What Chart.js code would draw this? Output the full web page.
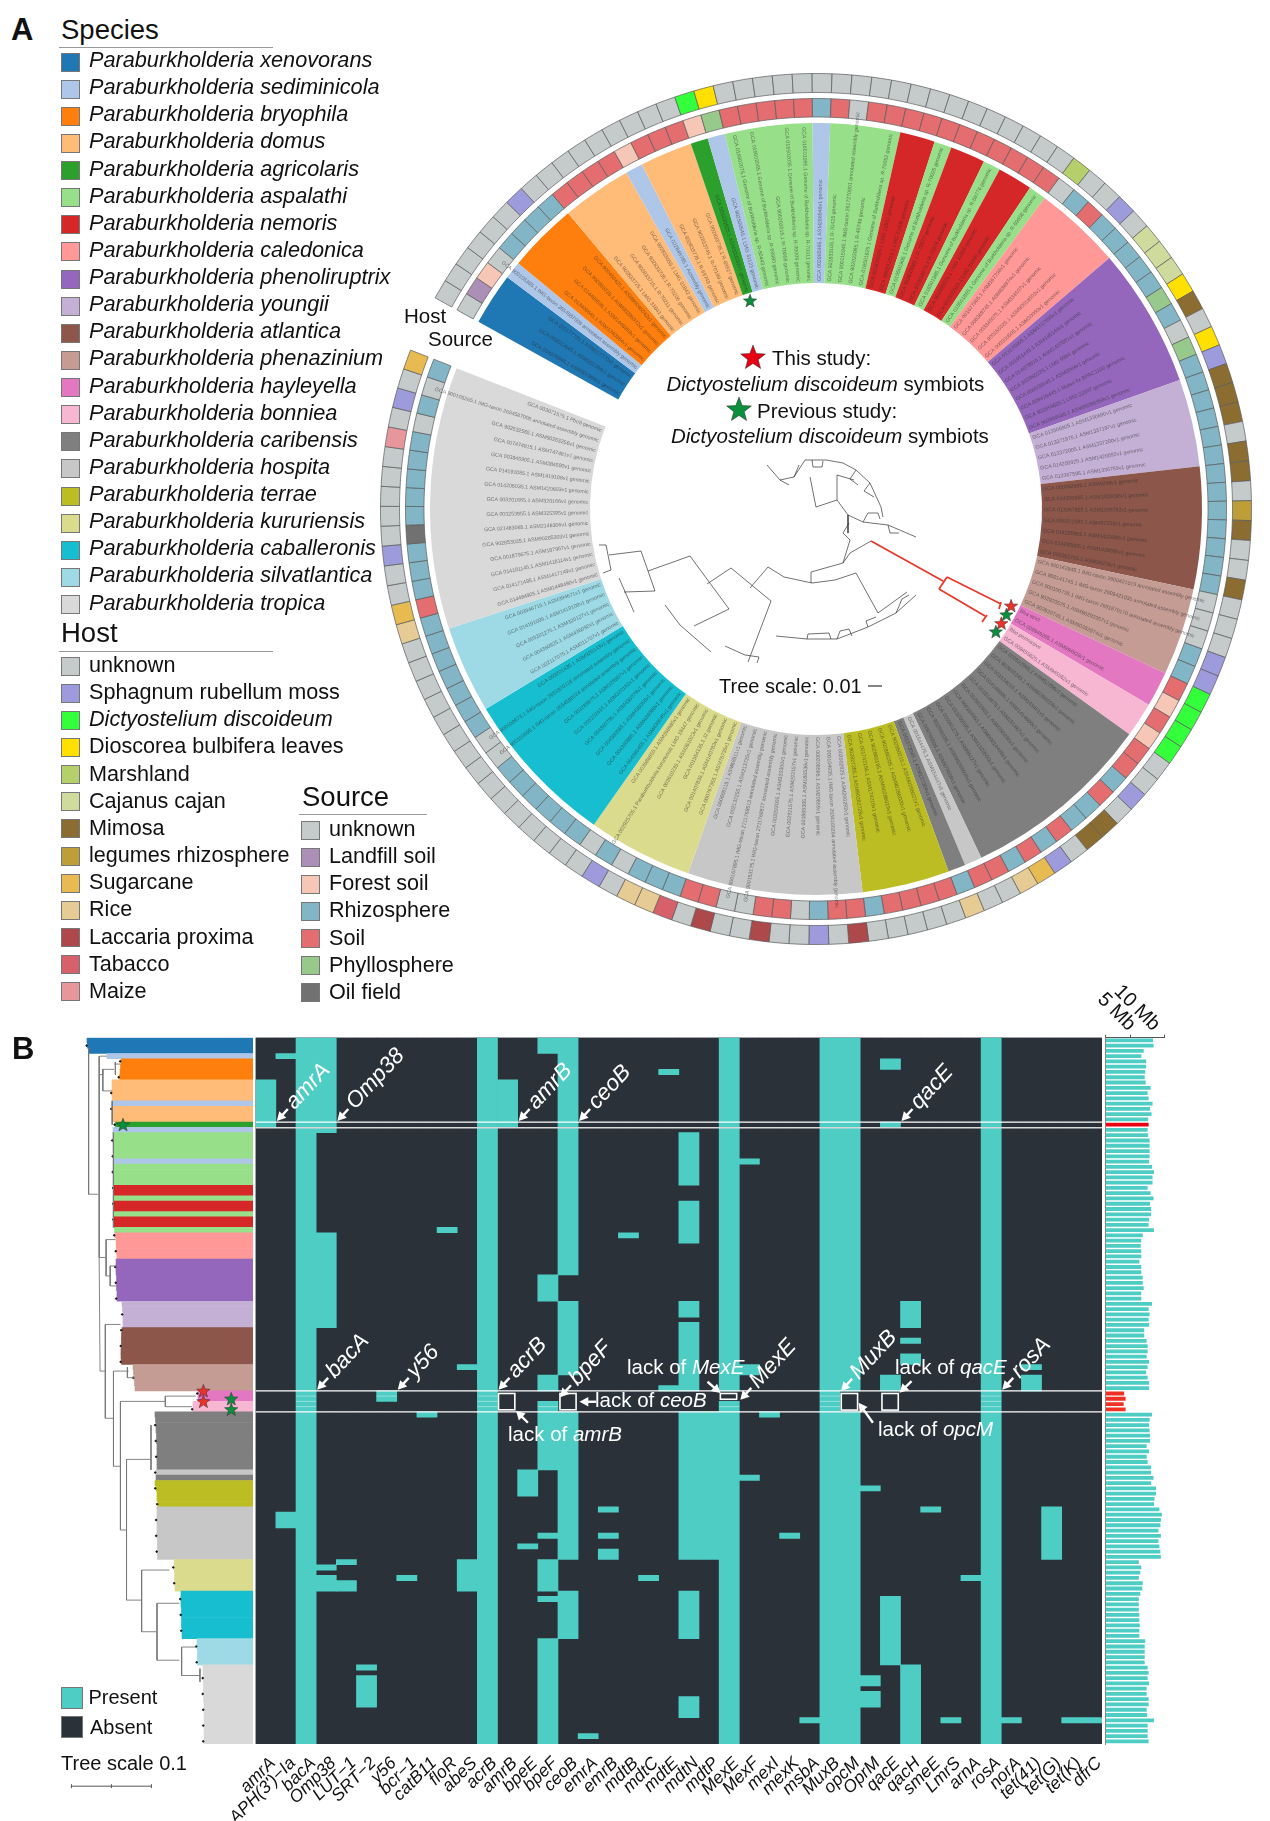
<!DOCTYPE html>
<html>
<head>
<meta charset="utf-8">
<title>Paraburkholderia genomes</title>
<script src="https://cdn.jsdelivr.net/npm/chart.js@4"></script>
<style>
html, body { margin: 0; background: #fff; }
#page { position: relative; width: 1270px; height: 1821px; overflow: hidden; font-family: "Liberation Sans", Arial, sans-serif; color: #111; }
canvas { position: absolute; }
.t { position: absolute; white-space: nowrap; line-height: 1; transform: translateY(-50%); }
.sw { position: absolute; box-sizing: border-box; border: 1px solid #777; }
.rule { position: absolute; height: 1px; background: #999; }
</style>
</head>
<body>
<div id="page">
  <canvas id="stripCanvas" width="1270" height="821" style="left:0;top:1000px"></canvas>
  <canvas id="treeCanvas" width="1270" height="821" style="left:0;top:1000px"></canvas>
  <canvas id="heatCanvas" width="1270" height="821" style="left:0;top:1000px"></canvas>
  <canvas id="genomeCanvas" width="180" height="800" style="left:1090px;top:960px"></canvas>
  <canvas id="ringCanvas" width="900" height="900" style="left:366px;top:59px"></canvas>
  <canvas id="innerCanvas" width="900" height="900" style="left:366px;top:59px"></canvas>
</div>
<script>
// ═══ Data ═══
const speciesNames = ["xenovorans","sediminicola","bryophila","domus","agricolaris","aspalathi","nemoris","caledonica","phenoliruptrix","youngii","atlantica","phenazinium","hayleyella","bonniea","caribensis","hospita","terrae","kururiensis","caballeronis","silvatlantica","tropica"];
const speciesColors = ["#1f77b4","#aec7e8","#ff7f0e","#ffbb78","#2ca02c","#98df8a","#d62728","#ff9896","#9467bd","#c5b0d5","#8c564b","#c49c94","#e377c2","#f7b6d2","#7f7f7f","#c7c7c7","#bcbd22","#dbdb8d","#17becf","#9edae5","#d9d9d9"];
// clades in tree order: which species, how many genomes
const cladeSpecies = [0,1,2,3,1,3,4,1,5,1,5,6,5,6,5,6,5,7,8,9,10,11,12,13,14,15,14,16,15,17,18,19,20];
const cladeCounts = [3,1,4,4,1,3,1,1,5,1,4,2,1,2,1,2,1,5,8,5,7,5,2,2,11,1,1,5,10,6,9,5,15];

const hostNames = ["unknown","Sphagnum rubellum moss","Dictyostelium discoideum","Dioscorea bulbifera leaves","Marshland","Cajanus cajan","Mimosa","legumes rhizosphere","Sugarcane","Rice","Laccaria proxima","Tabacco","Maize"];
const hostColors = ["#c5cbcb","#9d9bdc","#33ff3a","#ffe000","#b5cf6b","#cedb9c","#8c6d31","#bd9e39","#e7ba52","#e7cb94","#ad494a","#d6616b","#e7969c"];
const hostByTip = [0,0,0,0,0,0,1,0,0,0,0,0,0,0,0,0,2,3,0,0,0,0,0,0,0,0,0,0,0,0,0,0,0,0,0,0,0,4,0,0,1,0,5,5,5,3,6,0,3,1,6,6,6,0,6,6,0,7,6,0,0,6,0,0,0,1,1,2,2,2,2,0,0,1,0,6,6,0,1,8,9,0,0,9,0,0,0,0,0,10,0,1,0,0,10,0,0,10,0,11,9,9,0,1,0,0,0,0,0,0,0,0,0,0,0,0,0,0,0,9,8,0,0,1,0,0,0,0,0,12,0,1,0,8];

const sourceNames = ["unknown","Landfill soil","Forest soil","Rhizosphere","Soil","Phyllosphere","Oil field"];
const sourceColors = ["#c5cbcb","#ab8fb6","#f6c7b6","#82b6c6","#e36d6f","#97c98c","#717171"];
const sourceByTip = [0,1,2,0,3,3,3,3,4,4,4,4,2,4,4,4,2,5,4,4,4,4,4,3,4,0,4,4,4,4,4,4,4,4,4,4,4,0,3,4,3,3,3,3,3,5,3,0,5,3,3,3,3,3,3,3,3,3,3,3,3,3,0,0,0,3,3,4,2,4,2,4,4,3,4,3,3,4,3,4,3,4,4,3,4,4,4,4,3,4,4,3,0,4,4,0,0,4,4,3,3,3,0,3,0,3,3,3,3,3,3,0,0,3,3,3,3,3,3,3,4,3,3,3,6,3,3,3,3,3,0,3,0,3];

const tipLabels = ["GCA 003078945.1 ASM307894v1 genomic","GCA 002013645.1 ASM201364v1 genomic","GCA 001177705.1 ASM117770v1 genomic","GCA 900105365.1 IMG-taxon 2654587008 annotated assembly genomic","GCA 013409645.1 ASM1340964v1 genomic","GCA 014489595.1 ASM1448959v1 genomic","GCA 902859725.1 ASM90285972v1 genomic","GCA 900450425.1 ASM90045042v1 genomic","GCA 902833725.1 LMG 31841 genomic","GCA 902833715.1 R-70211 genomic","GCA 902833705.1 R-70206 genomic","GCA 902833055.1 LMG 31842 genomic","GCA 022846785.1 Assembly genomic","GCA 902833775.1 R-69749 genomic","GCA 902833745.1 R-70199 genomic","GCA 902833735.1 R-69927 genomic","GCA 003330825.1 ASM333082v1 genomic","GCA 902500545.1 LMG 31123 genomic","GCA 016502075.1 Genome of Burkholderia sp. R-50443 genomic","GCA 016502065.1 Genome of Burkholderia sp. R-69980 genomic","GCA 900203015.1 R-70008 genomic","GCA 016502035.1 Genome of Burkholderia sp. R-70009 genomic","GCA 016501995.1 Genome of Burkholderia sp. R-70011 genomic","GCA 002865465.1 ASM286546v1 genomic","GCA 902833105.1 R-70425 genomic","GCA 900115945.1 IMG-taxon 2617270901 annotated assembly genomic","GCA 902023065.1 R-45749 genomic","GCA 016501925.1 Genome of Burkholderia sp. R-70052 genomic","GCA 902833625.1 LMG 22931 genomic","GCA 900231015.1 LMG 31006 genomic","GCA 016501905.1 Genome of Burkholderia sp. R-70025 genomic","GCA 902833085.1 R-70377 genomic","GCA 902833075.1 R-70376 genomic","GCA 016501885.1 Genome of Burkholderia sp. R-69776 genomic","GCA 902500525.1 LMG 31836 genomic","GCA 902500515.1 LMG 31840 genomic","GCA 016501865.1 Genome of Burkholderia sp. R-69658 genomic","GCA 001677965.1 ASM167796v1 genomic","GCA 008369745.1 ASM836974v1 genomic","GCA 003345075.1 ASM334507v1 genomic","GCA 900185025.1 ASM90018502v1 genomic","GCA 000300505.1 ASM30050v1 genomic","GCA 013176955.1 ASM1317695v1 genomic","GCA 001951445.1 ASM195144v1 genomic","GCA 014078015.1 ASM1407801v1 genomic","GCA 902860225.1 LMG 9964 genomic","GCA 000020045.1 ASM2004v1 genomic","GCA 009416445.1 Mutan fix BPAC1100 genomic","GCA 902859605.1 LMG 22037 genomic","GCA 902859585.1 ASM90285958v1 genomic","GCA 013306905.1 ASM1330690v1 genomic","GCA 013371975.1 ASM1337197v1 genomic","GCA 013372005.1 ASM1337200v1 genomic","GCA 014200925.1 ASM1420092v1 genomic","GCA 013367595.1 ASM1336759v1 genomic","GCA 000092985.1 ASM9298v1 genomic","GCA 014200955.1 ASM1420095v1 genomic","GCA 013367825.1 ASM1336782v1 genomic","GCA 000372585.1 ASM37258v1 genomic","GCA 014200905.1 ASM1420090v1 genomic","GCA 014280605.1 ASM1428060v1 genomic","GCA 000362765.1 ASM36276v1 genomic","GCA 900142845.1 IMG-taxon 2600421019 annotated assembly genomic","GCA 900141745.1 IMG-taxon 2609421035 annotated assembly genomic","GCA 900100735.1 IMG-taxon 2651870170 annotated assembly genomic","GCA 902923575.1 ASM90292357v1 genomic","GCA 902829745.1 ASM90282974v1 genomic","Bha strict","GCA 009949285.1 ASM994928v1 genomic","Bbo permissive","GCA 009455625.1 ASM945562v1 genomic","GCA 000522565.2 ASM52256v2 genomic","GCA 902860245.1 ASM90286024v1 genomic","GCA 001634015.1 ASM163401v1 genomic","GCA 014146005.1 ASM1414600v1 genomic","GCA 001518675.1 ASM151867v1 genomic","GCA 002902965.1 ASM290296v1 genomic","GCA 900104955.1 ASM90010495v1 genomic","GCA 013205505.1 ASM1320550v1 genomic","GCA 000961275.1 ASM96127v1 genomic","GCA 902860105.1 ASM90286010v1 genomic","GCA 009786595.1 ASM978659v1 genomic","GCA 001544475.1 ASM154447v1 genomic","GCA 001573045.1 ASM157304v1 genomic","GCA 902860215.1 ASM90286021v1 genomic","GCA 902860205.1 ASM90286020v1 genomic","GCA 902860195.1 ASM90286019v1 genomic","GCA 001742165.1 ASM174216v1 genomic","GCA 902827285.1 ASM90282728v1 genomic","GCA 002002825.1 ASM200282v1 genomic","GCA 900104935.1 IMG-taxon 2634166264 annotated assembly genomic","GCA 000208596.1 ASM20859v1 genomic","GCA 001865365.1 ASM186536v1 genomic","GCA 002921575.1 ASM292157v1 genomic","GCA 003203005.1 ASM320300v1 genomic","GCA 900153175.1 IMG-taxon 2711768817 annotated assembly genomic","GCA 900167895.1 IMG-taxon 2711768513 annotated assembly genomic","GCA 002137255.1 ASM213725v1 genomic","GCA 000685115.1 ASM68511v1 genomic","GCA 000767355.1 ASM76735v1 genomic","GCA 001407835.1 ASM140783v1 genomic","GCA 001554135.1 J2 genomic","GCA 003610235.1 ASM361023v1 genomic","GCA 002925705.1 Paraburkholderia kururiensis LMG 19447 genomic","GCA 003686855.1 ASM368685v1 genomic","GCA 004360455.1 ASM436045v1 genomic","GCA 004360885.1 ASM436088v1 genomic","GCA 004360565.1 ASM436056v1 genomic","GCA 004360795.1 ASM436079v1 genomic","GCA 003201615.1 ASM320161v1 genomic","GCA 003289875.1 ASM328987v1 genomic","GCA 900103695.1 IMG-taxon 2654588024 annotated assembly genomic","GCA 900100673.1 IMG-taxon 2651870118 annotated assembly genomic","GCA 003201435.1 ASM320143v1 genomic","GCA 002117075.1 ASM211707v1 genomic","GCA 004360925.1 ASM436092v1 genomic","GCA 003201275.1 ASM320127v1 genomic","GCA 014191095.1 ASM1419109v1 genomic","GCA 003946715.1 ASM394671v1 genomic","GCA 014484905.1 ASM1448490v1 genomic","GCA 014171495.1 ASM1417149v1 genomic","GCA 014181145.1 ASM1418114v1 genomic","GCA 001879675.1 ASM187967v1 genomic","GCA 902853035.1 ASM90285303v1 genomic","GCA 021483065.1 ASM2148306v1 genomic","GCA 003253955.1 ASM325395v1 genomic","GCA 003201665.1 ASM320166v1 genomic","GCA 014206035.1 ASM1420603v1 genomic","GCA 014191085.1 ASM1419108v1 genomic","GCA 003845905.1 ASM384590v1 genomic","GCA 007474815.1 ASM747481v1 genomic","GCA 902532565.1 ASM90253256v1 genomic","GCA 900105265.1 IMG-taxon 2654587008 annotated assembly genomic","GCA 003071575.1 Pbo8 genomic"];

const geneNames = ["amrA","APH(3')−Ia","bacA","Omp38","LUT−1","SRT−2","y56","bcr−1","catB11","floR","abeS","acrB","amrB","bpeE","bpeF","ceoB","emrA","emrB","mdtB","mdtC","mdtE","mdtN","mdtP","MexE","MexF","mexI","mexK","msbA","MuxB","opcM","OprM","qacE","qacH","smeE","LmrS","arnA","rosA","norA","tet(41)","tet(G)","tet(K)","dfrC"];
// present runs per gene, [first row, row after last]
const geneRuns = [
  [[8,17]],
  [[3,4],[90,93]],
  [[0,134]],
  [[0,18],[37,55],[100,101],[102,105]],
  [[99,100],[103,105]],
  [[119,120],[121,127]],
  [[67,69]],
  [[102,103]],
  [[71,72]],
  [[36,37]],
  [[62,63],[99,105]],
  [[0,134]],
  [[8,17]],
  [[82,87],[96,97]],
  [[0,3],[45,50],[64,67],[69,82],[94,95],[99,105],[106,107],[114,134]],
  [[0,45],[50,64],[71,99],[105,114]],
  [[132,133]],
  [[89,90],[94,95],[97,99]],
  [[37,38]],
  [[102,103]],
  [[6,7],[66,67]],
  [[18,28],[31,39],[50,53],[54,67],[71,99],[105,114],[125,129]],
  [[71,99]],
  [[0,67],[69,134]],
  [[23,24],[62,64],[83,84]],
  [[71,72]],
  [[94,95]],
  [[129,130]],
  [[0,134]],
  [[0,67],[71,134]],
  [[85,86],[121,123],[124,127]],
  [[4,6],[16,17],[64,67],[106,119]],
  [[50,55],[57,58],[60,62],[119,134]],
  [[89,90]],
  [[129,130]],
  [[102,103]],
  [[0,134]],
  [[129,130]],
  [[62,63],[64,67]],
  [[89,99]],
  [[129,130]],
  [[129,130]]
];

const genomeMb = [9.7,9.8,7.8,7.3,8.3,8.3,8.1,8.0,8.2,9.2,8.6,8.8,9.6,9.1,9.4,8.7,8.8,8.6,8.7,9.0,9.0,9.0,9.0,8.9,9.5,9.9,9.6,9.6,8.6,9.2,9.8,9.1,9.3,9.3,8.9,8.8,9.9,7.6,7.3,7.2,7.3,7.3,6.9,7.3,7.3,7.6,7.6,7.8,7.3,7.3,9.5,8.8,9.0,8.8,8.9,7.9,7.9,8.4,8.6,8.6,8.4,8.9,8.6,8.3,8.6,8.9,8.9,3.8,4.1,3.7,4.1,9.5,9.0,8.9,9.0,9.1,9.1,8.4,8.9,8.4,8.6,9.3,9.3,9.8,9.3,10.3,10.3,10.0,9.9,11.0,11.5,11.3,11.2,10.8,11.3,10.8,11.0,11.2,11.3,6.8,7.3,7.1,6.8,7.6,7.5,7.1,6.8,6.8,6.8,6.9,6.9,7.0,6.9,6.9,8.1,8.0,8.0,8.0,8.0,8.6,8.8,8.6,8.9,8.4,8.4,8.8,8.8,8.4,8.5,9.9,8.6,8.6,8.6,8.8];
const genomeTickValues = [5, 10];
const genomeTickLabels = ["5 Mb", "10 Mb"];
const symbiontRows = [16, 67, 68, 69, 70];

// tree distance from the root to each tip (0.1 = the tree scale bar)
const tipDepth = [.0325,.0331,.0344,.0575,.075,.0744,.0738,.0731,.0638,.0638,.0638,.0638,.0638,.0638,.0638,.0638,.0681,.065,.065,.065,.0656,.0656,.0656,.0656,.0656,.0656,.0656,.0656,.0663,.0663,.0663,.0663,.0663,.0663,.0663,.0663,.0669,.0675,.0688,.069,.0694,.07,.0688,.0688,.0688,.0694,.0694,.0694,.07,.07,.0763,.0769,.0775,.0775,.0775,.0763,.0756,.0756,.0756,.075,.075,.0756,.09,.0906,.0913,.0919,.0925,.1713,.1713,.165,.165,.1175,.1181,.1188,.1188,.1194,.1194,.12,.12,.12,.12,.12,.1188,.1188,.1175,.1188,.12,.12,.1213,.12,.12,.12,.12,.12,.12,.1206,.1206,.1206,.1206,.1413,.1413,.1419,.1419,.1425,.1425,.15,.15,.15,.1506,.1506,.1506,.1506,.1513,.1513,.17,.17,.1706,.1706,.1706,.1775,.1775,.1781,.1781,.1781,.1781,.1781,.1788,.1788,.1788,.1788,.1788,.1788,.1788,.1788];

// rectangular tree of panel B, [depth, row] runs
const treeBranches = [
  [[.0345,1.9],[.0345,29.7],[.0462,29.7]],
  [[.0487,3.5],[.0574,3.5]],
  [[.0477,3.5],[.0477,41.7],[.0488,63.25],[.0554,63.25]],
  [[.0477,7],[.0523,7],[.0523,6],[.0666,6]],
  [[.0523,6],[.0523,10.1],[.0640,10.1]],
  [[.0666,5],[.074,5]],[[.068,4.6],[.068,7]],
  [[.064,12],[.064,16.5]],[[.0655,18],[.0655,36]],
  [[.0477,41.7],[.0554,41.7]],
  [[.0564,38.3],[.0564,45.2],[.0625,45.2]],
  [[.0564,38.3],[.068,38.3]],
  [[.0615,43.3],[.0615,47.1],[.0692,47.1]],
  [[.0615,43.3],[.0692,43.3]],
  [[.0554,54.4],[.0554,72.2],[.0656,72.2]],
  [[.0554,54.4],[.0743,54.4]],
  [[.0656,63.25],[.0656,81.3],[.0743,81.3]],
  [[.0656,63.25],[.0845,63.25]],
  [[.083,62.5],[.083,64.5],[.0925,64.5]],
  [[.0743,69],[.0743,93.4],[.0819,93.4]],
  [[.0743,69],[.1304,69]],
  [[.1304,68],[.1304,70]],
  [[.1304,68],[.1686,68]],
  [[.1304,70],[.1635,70]],
  [[.0819,80],[.0819,106.7],[.1,106.7]],
  [[.0819,80],[.1115,80]],
  [[.1125,73.5],[.1125,82]],
  [[.1008,101],[.1008,112.7],[.119,112.7]],
  [[.1008,101],[.1355,101]],
  [[.12,107.3],[.12,118.1],[.148,118.1]],
  [[.12,107.3],[.148,107.3]],
  [[.1508,115.6],[.1508,121],[.1737,121]],
  [[.1508,115.6],[.1686,115.6]],
  [[.1737,119.7],[.1737,122.2]]
];
const treeScaleBar = [[.013,142],[.063,142],[.113,142]];

// unrooted view of the same tree in the middle of panel A, offsets from the ring centre
const centreBranches = [
  [[-217,36],[-210,36],[-205,61],[-213,64]],
  [[-207,46],[-175,42],[-161,82],[-192,83]],
  [[-197,69],[-182,103]],
  [[-168,62],[-126,47],[-87,100],[-122,117]],
  [[-151,96],[-136,116],[-105,143]],
  [[-109,75],[-85,59],[-45,92],[-68,153]],
  [[-91,137],[-71,146],[-57,148],[-59,154]],
  [[-66,79],[-48,58],[-32,68],[-4,74],[19,71],[40,64]],
  [[-5,74],[-5,63],[27,54],[34,31],[27,24],[33,14]],
  [[27,54],[34,44],[55,32]],
  [[40,64],[62,104],[91,83]],
  [[-40,127],[-9,130],[21,130],[52,118],[80,104],[100,86]],
  [[-9,130],[-8,125],[13,124],[15,130]],
  [[21,130],[24,122],[33,120],[36,127]],
  [[52,118],[50,112],[60,108]],
  [[80,104],[86,90],[93,86]],
  [[-49,-44],[-36,-29],[-27,-24]],
  [[-36,-29],[-22,-32],[-17,-44]],
  [[-22,-32],[-11,-49],[10,-49],[27,-46],[40,-39],[54,-26],[65,-2],[67,8]],
  [[-4,-49],[-3,-42],[6,-42],[7,-48]],
  [[40,-39],[34,-30],[42,-24]],
  [[54,-26],[48,-18],[58,-12]],
  [[-6,-32],[0,-2],[21,-9],[32,6],[32,24]],
  [[21,-9],[21,-34],[38,-29]],
  [[32,6],[47,13],[72,16],[100,28]],
  [[47,13],[52,4],[62,4],[64,10]],
  [[72,16],[74,24],[83,24]]
];
const centreHighlight = [
  [[55,32],[127,72]],
  [[131,68],[123,80]],
  [[131,68],[185,95]],[[185,93],[183,100]],
  [[123,80],[169,107]],[[171,106],[166,113]]
];
const centreScaleBar = [[52,177],[66,177]];

// ═══ Shared helpers ═══
const FONT = '"Liberation Sans", Arial, sans-serif';
const TEAL = "#4ecdc4", DARK = "#2a3138";
const page = document.getElementById("page");
const rows = tipDepth.map((_, i) => String(i));

let rowSpecies = [];
cladeSpecies.forEach((s, i) => { for (let k = 0; k < cladeCounts[i]; k++) rowSpecies.push(s); });

Chart.defaults.font.family = FONT;
Chart.defaults.animation = false;
Chart.defaults.responsive = false;
Chart.defaults.devicePixelRatio = 1;
Chart.defaults.plugins.legend.display = false;
Chart.defaults.plugins.tooltip.enabled = false;

function addText(x, y, size, html, italic) {
  const d = document.createElement("div");
  d.className = "t";
  d.style.cssText = `left:${x}px;top:${y}px;font-size:${size}px;` + (italic ? "font-style:italic;" : "");
  d.innerHTML = html;
  page.appendChild(d);
  return d;
}
function addSwatch(x, y, w, h, color) {
  const d = document.createElement("div");
  d.className = "sw";
  d.style.cssText = `left:${x}px;top:${y - h / 2}px;width:${w}px;height:${h}px;background:${color}`;
  page.appendChild(d);
}
function addRule(x, y, w) {
  const d = document.createElement("div");
  d.className = "rule";
  d.style.cssText = `left:${x}px;top:${y}px;width:${w}px`;
  page.appendChild(d);
}
function starPath(ctx, x, y, r) {
  ctx.beginPath();
  for (let i = 0; i < 10; i++) {
    const a = -Math.PI / 2 + i * Math.PI / 5;
    const rr = i % 2 ? r * 0.42 : r;
    ctx.lineTo(x + rr * Math.cos(a), y + rr * Math.sin(a));
  }
  ctx.closePath();
}
function drawStar(ctx, x, y, r, color) {
  ctx.save();
  starPath(ctx, x, y, r);
  ctx.fillStyle = color;
  ctx.fill();
  ctx.strokeStyle = "rgba(40,40,40,.7)";
  ctx.lineWidth = 0.7;
  ctx.stroke();
  ctx.restore();
}
function branchesToPoints(list) {
  const pts = [];
  list.forEach((run) => {
    run.forEach((p) => pts.push({ x: p[0], y: p[1] }));
    pts.push({ x: NaN, y: NaN });
  });
  return pts;
}

// ═══ Panel text and legends ═══
addText(11, 29, 31, "<b>A</b>");
addText(12, 1048, 31, "<b>B</b>");

addText(61, 30, 27.5, "Species");
addRule(59, 47, 214);
speciesNames.forEach((n, i) => {
  const y = 62 + i * 27.13;
  addSwatch(61, y, 19, 19, speciesColors[i]);
  addText(89, y - 2, 21.7, "Paraburkholderia " + n, true);
});
addText(61, 633, 27.5, "Host");
addRule(59, 651, 214);
hostNames.forEach((n, i) => {
  const y = 666 + i * 27.15;
  addSwatch(61, y, 19, 19, hostColors[i]);
  addText(89, y - 1, 21.6, n, i === 2);
});
addText(302, 797, 27.5, "Source");
addRule(299, 814, 128);
sourceNames.forEach((n, i) => {
  const y = 830 + i * 27.15;
  addSwatch(301, y, 19, 19, sourceColors[i]);
  addText(329, y - 1, 21.6, n);
});
addText(404, 316, 20.5, "Host");
addText(428, 339, 20.5, "Source");
addText(772, 358, 20.5, "This study:");
addText(666.5, 384, 20.5, "<i>Dictyostelium discoideum</i> symbiots");
addText(757, 411, 20.5, "Previous study:");
addText(671, 436, 20.5, "<i>Dictyostelium discoideum</i> symbiots");
addText(719, 686, 20, "Tree scale: 0.01");

addSwatch(61, 1697.5, 22, 22, TEAL);
addSwatch(61, 1726.5, 22, 22, DARK);
addText(88.5, 1697, 20, "Present");
addText(90, 1727, 20, "Absent");
addText(61, 1763, 20, "Tree scale 0.1");

// ═══ Panel A: rings ═══
const tipLabelPlugin = {
  id: "tipLabels",
  afterDatasetsDraw(chart) {
    const ctx = chart.ctx;
    const arcs = chart.getDatasetMeta(2).data;
    const species = chart.getDatasetMeta(4).data[0];
    const r0 = species.innerRadius + 2;
    ctx.save();
    ctx.font = `5.3px ${FONT}`;
    ctx.fillStyle = "rgba(45,45,45,.6)";
    ctx.textBaseline = "middle";
    arcs.forEach((arc, i) => {
      const a = (arc.startAngle + arc.endAngle) / 2;
      const right = Math.cos(a) >= 0;
      ctx.save();
      ctx.translate(arc.x, arc.y);
      ctx.rotate(right ? a : a + Math.PI);
      ctx.textAlign = right ? "left" : "right";
      ctx.fillText(tipLabels[i], right ? r0 : -r0, 0);
      ctx.restore();
    });
    // symbiont markers sit just inside the labels
    [[16, "#0a8f3c"], [67, "#e8322a"], [68, "#0a8f3c"], [69, "#e8322a"], [70, "#0a8f3c"]].forEach(([tip, color]) => {
      const arc = arcs[tip];
      const a = (arc.startAngle + arc.endAngle) / 2;
      drawStar(ctx, arc.x + 218 * Math.cos(a), arc.y + 218 * Math.sin(a), 7, color);
    });
    const cx = species.x, cy = species.y;
    drawStar(ctx, cx - 63, cy - 151, 13, "#e60012");
    drawStar(ctx, cx - 77, cy - 99, 13, "#0a8f3c");
    ctx.restore();
  }
};

new Chart(document.getElementById("ringCanvas"), {
  type: "doughnut",
  data: {
    labels: rows,
    datasets: [
      { label: "Host", data: hostByTip.map(() => 1), backgroundColor: hostByTip.map((h) => hostColors[h]), borderColor: "#5a5a5a", borderWidth: 0.7, weight: 19 },
      { label: "", data: [1], backgroundColor: "rgba(0,0,0,0)", borderWidth: 0, weight: 6 },
      { label: "Source", data: sourceByTip.map(() => 1), backgroundColor: sourceByTip.map((s) => sourceColors[s]), borderColor: "#5a5a5a", borderWidth: 0.7, weight: 18.5 },
      { label: "", data: [1], backgroundColor: "rgba(0,0,0,0)", borderWidth: 0, weight: 6 },
      { label: "Species", data: cladeCounts, backgroundColor: cladeSpecies.map((s) => speciesColors[s]), borderWidth: 0, weight: 160 }
    ]
  },
  options: {
    rotation: -61,
    circumference: 352.4,
    radius: 435.5,
    cutout: "51.9%"
  },
  plugins: [tipLabelPlugin]
});

new Chart(document.getElementById("innerCanvas"), {
  type: "scatter",
  data: {
    datasets: [
      { data: branchesToPoints(centreBranches), showLine: true, borderColor: "#333", borderWidth: 0.7, pointRadius: 0, spanGaps: false },
      { data: branchesToPoints(centreHighlight), showLine: true, borderColor: "#e8392a", borderWidth: 1.8, pointRadius: 0, spanGaps: false },
      { data: branchesToPoints([centreScaleBar]), showLine: true, borderColor: "#333", borderWidth: 1.2, pointRadius: 0 }
    ]
  },
  options: {
    layout: { padding: 0 },
    scales: {
      x: { display: false, min: -450, max: 450 },
      y: { display: false, min: -450, max: 450, reverse: true }
    }
  }
});

// ═══ Panel B: species strips and tree ═══
new Chart(document.getElementById("stripCanvas"), {
  type: "bar",
  data: {
    labels: rows,
    datasets: [{
      data: tipDepth.map((d) => [d, 0.24]),
      backgroundColor: rowSpecies.map((s) => speciesColors[s]),
      barPercentage: 1,
      categoryPercentage: 1
    }]
  },
  options: {
    indexAxis: "y",
    layout: { padding: { left: 61, right: 1017, top: 37.7, bottom: 77 } },
    scales: {
      x: { display: false, min: 0, max: 0.24 },
      y: { display: false }
    }
  }
});

const treeStarPlugin = {
  id: "treeStars",
  afterDatasetsDraw(chart) {
    const { x, y } = chart.scales;
    const ctx = chart.ctx;
    [[.0775, 16.6, "#0a8f3c"], [.178, 67.1, "#e8322a"], [.178, 69.1, "#e8322a"], [.2128, 68.6, "#0a8f3c"], [.2128, 70.6, "#0a8f3c"]].forEach(([d, r, c]) => {
      drawStar(ctx, x.getPixelForValue(d), y.getPixelForValue(r), 7, c);
    });
  }
};

new Chart(document.getElementById("treeCanvas"), {
  type: "scatter",
  data: {
    datasets: [
      { data: branchesToPoints(treeBranches), showLine: true, borderColor: "#777", borderWidth: 0.9, pointRadius: 0, spanGaps: false },
      { data: tipDepth.map((d, i) => ({ x: d - 0.001, y: i + 0.5 })).filter((_, i) => i % 3 === 1), borderColor: "#111", backgroundColor: "#111", pointRadius: 0.8 },
      { data: branchesToPoints([treeScaleBar]), showLine: true, borderColor: "#555", borderWidth: 1, pointRadius: 2, pointStyle: "line", rotation: 90, pointBorderColor: "#555", pointBorderWidth: 1 }
    ]
  },
  options: {
    layout: { padding: { left: 61, right: 1014, top: 37.7, bottom: 19 } },
    scales: {
      x: { display: false, min: 0, max: 0.24375 },
      y: { display: false, min: 0, max: 145, reverse: true }
    }
  },
  plugins: [treeStarPlugin]
});

// ═══ Panel B: presence / absence heatmap ═══
const rowRules = [[16, "#fff"], [17.08, "#d8d8d8"], [67, "#fff"], [71, "#fff"]];
const lackBoxes = [[12.05, 12.86, 67.5, 70.6], [15.1, 15.9, 67.5, 70.6], [23.06, 23.87, 67.5, 68.6], [29.06, 29.87, 67.5, 70.65], [31.08, 31.89, 67.5, 70.65]];
const geneNotes = [
  ["amrA", 1, 16], ["Omp38", 4, 16], ["amrB", 13, 16], ["ceoB", 16, 16], ["qacE", 32, 16],
  ["bacA", 3, 67], ["y56", 7, 67], ["acrB", 12, 67], ["bpeF", 15.05, 68.4], ["MexE", 24, 68.9], ["MuxB", 29, 67.2], ["rosA", 37, 67]
];
// "lack of" notes: text anchor (column, row), arrow tail, arrow head
const lackNotes = [
  ["MexE", 18.43, 62.7, 22.42, 65.27, 23.07, 67.42],
  ["qacE", 31.73, 62.7, 32.55, 65.14, 31.95, 67.36],
  ["ceoB", 16.84, 69.07, 16.89, 69.07, 16.07, 69.07],
  ["amrB", 12.52, 75.39, 13.51, 73.05, 12.92, 70.78],
  ["opcM", 30.88, 74.44, 30.63, 73.05, 29.92, 69.26]
];

function whiteArrow(ctx, x1, y1, x2, y2) {
  const a = Math.atan2(y2 - y1, x2 - x1);
  ctx.strokeStyle = "#fff";
  ctx.fillStyle = "#fff";
  ctx.lineWidth = 2.4;
  ctx.beginPath();
  ctx.moveTo(x1, y1);
  ctx.lineTo(x2 - 6 * Math.cos(a), y2 - 6 * Math.sin(a));
  ctx.stroke();
  ctx.beginPath();
  ctx.moveTo(x2, y2);
  ctx.lineTo(x2 - 10 * Math.cos(a - 0.5), y2 - 10 * Math.sin(a - 0.5));
  ctx.lineTo(x2 - 10 * Math.cos(a + 0.5), y2 - 10 * Math.sin(a + 0.5));
  ctx.closePath();
  ctx.fill();
}

const heatBackPlugin = {
  id: "heatBack",
  beforeDatasetsDraw(chart) {
    const { left, top, width, height } = chart.chartArea;
    chart.ctx.fillStyle = DARK;
    chart.ctx.fillRect(left, top, width, height);
  }
};

const heatNotesPlugin = {
  id: "heatNotes",
  afterDatasetsDraw(chart) {
    const ctx = chart.ctx;
    const { x, y } = chart.scales;
    const colW = (x.right - x.left) / geneNames.length;
    const cx = (c) => x.left + c * colW;
    ctx.save();
    // faint row seams in the highlighted clade
    ctx.strokeStyle = "rgba(255,255,255,.4)";
    ctx.lineWidth = 1;
    geneRuns.forEach((runs, c) => runs.forEach(([a, b]) => {
      [68, 69, 70].forEach((r) => {
        if (a < r && b > r) {
          ctx.beginPath();
          ctx.moveTo(cx(c), y.getPixelForValue(r));
          ctx.lineTo(cx(c + 1), y.getPixelForValue(r));
          ctx.stroke();
        }
      });
    }));
    rowRules.forEach(([r, color]) => {
      ctx.strokeStyle = color;
      ctx.lineWidth = 1.3;
      ctx.beginPath();
      ctx.moveTo(x.left, y.getPixelForValue(r));
      ctx.lineTo(x.right, y.getPixelForValue(r));
      ctx.stroke();
    });
    ctx.strokeStyle = "#fff";
    ctx.lineWidth = 1.6;
    lackBoxes.forEach(([c0, c1, r0, r1]) => {
      ctx.strokeRect(cx(c0), y.getPixelForValue(r0), (c1 - c0) * colW, y.getPixelForValue(r1) - y.getPixelForValue(r0));
    });
    ctx.fillStyle = "#fff";
    ctx.textBaseline = "middle";
    ctx.textAlign = "left";
    geneNotes.forEach(([name, c, r]) => {
      const hx = cx(c), hy = y.getPixelForValue(r);
      whiteArrow(ctx, hx + 12, hy - 13, hx + 1, hy - 1);
      ctx.save();
      ctx.translate(hx + 14, hy - 16);
      ctx.rotate(-47 * Math.PI / 180);
      ctx.font = `italic 22.5px ${FONT}`;
      ctx.fillStyle = "#fff";
      ctx.fillText(name, 0, 0);
      ctx.restore();
    });
    lackNotes.forEach(([name, c, r, tc, tr, hc, hr]) => {
      ctx.fillStyle = "#fff";
      ctx.font = `20.5px ${FONT}`;
      const tx = cx(c), ty = y.getPixelForValue(r);
      ctx.fillText("lack of ", tx, ty);
      const w = ctx.measureText("lack of ").width;
      ctx.font = `italic 20.5px ${FONT}`;
      ctx.fillText(name, tx + w, ty);
      whiteArrow(ctx, cx(tc), y.getPixelForValue(tr), cx(hc), y.getPixelForValue(hr));
    });
    ctx.restore();
  }
};

const presentBars = [];
geneRuns.forEach((runs, c) => runs.forEach((run) => presentBars.push({ x: geneNames[c], y: run })));

new Chart(document.getElementById("heatCanvas"), {
  type: "bar",
  data: {
    labels: geneNames,
    datasets: [
      { label: "Present", data: presentBars, backgroundColor: TEAL, barPercentage: 1, categoryPercentage: 1, grouped: false },
      { label: "Absent", data: geneNames.map((g) => ({ x: g, y: [0, rows.length] })), backgroundColor: DARK, barPercentage: 1, categoryPercentage: 1, grouped: false }
    ]
  },
  options: {
    layout: { padding: { left: 255.7, right: 168, top: 37.7, bottom: 0 } },
    scales: {
      x: {
        grid: { display: false },
        border: { display: false },
        afterFit: (s) => { s.height = 77; },
        ticks: { autoSkip: false, minRotation: 45, maxRotation: 45, padding: 1, labelOffset: 7, color: "#111", font: { size: 17.5, style: "italic" } }
      },
      y: { display: false, min: 0, max: rows.length, reverse: true }
    }
  },
  plugins: [heatBackPlugin, heatNotesPlugin]
});

// ═══ Panel B: genome size bars ═══
const genomeAxisPlugin = {
  id: "genomeAxis",
  afterDraw(chart) {
    const { x } = chart.scales;
    const ctx = chart.ctx;
    ctx.save();
    ctx.fillStyle = "#111";
    ctx.font = `20px ${FONT}`;
    ctx.textAlign = "right";
    ctx.textBaseline = "middle";
    genomeTickValues.forEach((v, i) => {
      ctx.save();
      ctx.translate(x.getPixelForValue(v) + 2, x.top - 7);
      ctx.rotate(Math.PI / 4);
      ctx.fillText(genomeTickLabels[i], 0, 0);
      ctx.restore();
    });
    ctx.restore();
  }
};

new Chart(document.getElementById("genomeCanvas"), {
  type: "bar",
  data: {
    labels: rows,
    datasets: [{
      data: genomeMb,
      backgroundColor: genomeMb.map((_, i) => symbiontRows.includes(i) ? (i === 16 ? "#e60012" : "#ee3124") : TEAL),
      barPercentage: 0.72,
      categoryPercentage: 1
    }]
  },
  options: {
    indexAxis: "y",
    layout: { padding: { left: 15.5, right: 105.3, top: 74.7, bottom: 16 } },
    scales: {
      x: {
        position: "top",
        min: 0,
        max: 12.08,
        ticks: { display: false, stepSize: 5 },
        grid: { drawOnChartArea: false, tickLength: 3, color: "#555" },
        border: { color: "#555" }
      },
      y: {
        afterFit: (s) => { s.width = 0; },
        ticks: { display: false },
        grid: { display: false },
        border: { color: "#888", width: 1 }
      }
    }
  },
  plugins: [genomeAxisPlugin]
});
</script>
</body>
</html>
